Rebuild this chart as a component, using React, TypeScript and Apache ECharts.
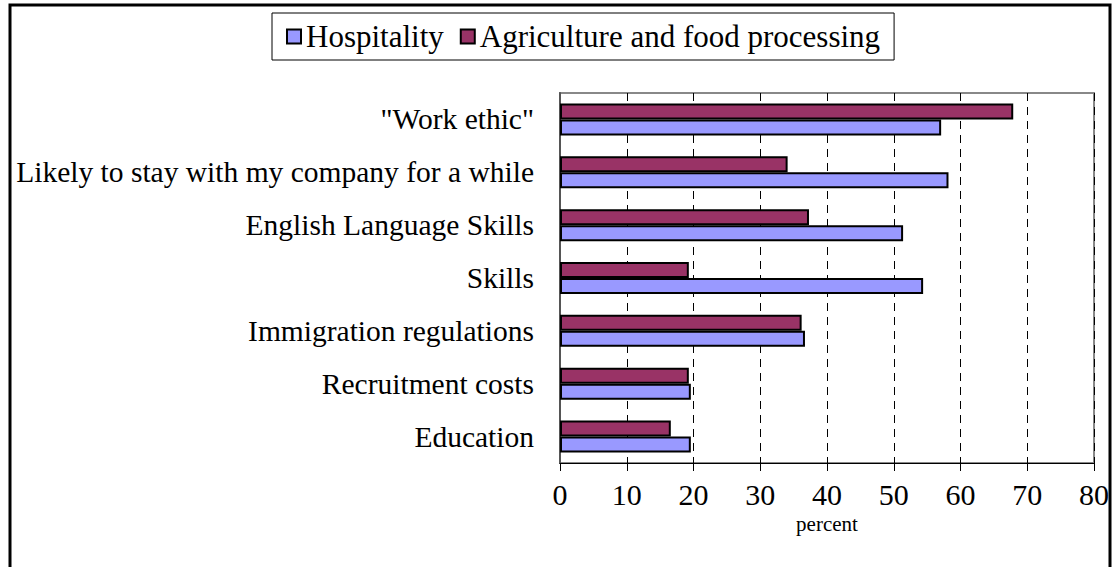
import React, { useEffect, useRef } from "react";
import * as echarts from "echarts";

const categories = [
  '"Work ethic"',
  "Likely to stay with my company for a while",
  "English Language Skills",
  "Skills",
  "Immigration regulations",
  "Recruitment costs",
  "Education",
];
const hospitality = [57.1, 58.2, 51.4, 54.4, 36.7, 19.6, 19.6];
const agriculture = [67.9, 34.1, 37.3, 19.3, 36.2, 19.3, 16.6];
const seriesNames = ["Hospitality", "Agriculture and food processing"];
const xTicks = { min: 0, max: 80, interval: 10 };
const xName = "percent";

const FONT = "'Liberation Serif', 'Times New Roman', Times, serif";

export default function App() {
  const ref = useRef<HTMLDivElement>(null);
  useEffect(() => {
    if (!ref.current) return;
    const chart = echarts.init(ref.current, undefined, { renderer: "svg" });
    chart.setOption({
      animation: false,
      backgroundColor: "#ffffff",
      textStyle: { fontFamily: FONT, color: "#000" },
      graphic: [
        {
          type: "rect",
          shape: { x: 10, y: 5, width: 1100, height: 570 },
          style: { fill: "none", stroke: "#000", lineWidth: 3 },
          silent: true,
          z: 100,
        },
      ],
      legend: {
        data: seriesNames.map((n) => ({
          name: n,
          textStyle: { fontFamily: FONT, fontSize: 31, color: "#000" },
        })),
        left: 272,
        top: 13,
        itemWidth: 14,
        itemHeight: 14,
        itemGap: 16,
        padding: [8, 14, 8, 14],
        borderColor: "#000",
        borderWidth: 1,
        textStyle: { fontFamily: FONT, fontSize: 31, color: "#000" },
        icon: "rect",
      },
      grid: {
        left: 560,
        right: 18,
        top: 93,
        bottom: 104,
        show: true,
        borderColor: "#888",
        borderWidth: 2,
        containLabel: false,
      },
      xAxis: {
        type: "value",
        min: xTicks.min,
        max: xTicks.max,
        interval: xTicks.interval,
        name: xName,
        nameLocation: "middle",
        nameGap: 48,
        nameTextStyle: { fontFamily: FONT, fontSize: 21, color: "#000" },
        axisLine: { show: true, lineStyle: { color: "#000", width: 1 } },
        axisTick: { show: true, length: 8, lineStyle: { color: "#000" } },
        axisLabel: { fontFamily: FONT, fontSize: 30, color: "#000", margin: 16 },
        splitLine: { show: true, lineStyle: { color: "#000", type: [8, 6], width: 1 } },
      },
      yAxis: {
        type: "category",
        data: categories,
        inverse: true,
        axisLine: { show: true, lineStyle: { color: "#555", width: 2 } },
        axisTick: { show: false },
        axisLabel: { fontFamily: FONT, fontSize: 29.5, color: "#000", margin: 26 },
      },
      series: [
        {
          name: seriesNames[1],
          type: "bar",
          data: agriculture,
          barWidth: 16,
          barGap: "0%",
          itemStyle: { color: "#993366", borderColor: "#000", borderWidth: 2 },
        },
        {
          name: seriesNames[0],
          type: "bar",
          data: hospitality,
          barWidth: 16,
          barGap: "0%",
          itemStyle: { color: "#9999FF", borderColor: "#000", borderWidth: 2 },
        },
      ],
    });
    return () => chart.dispose();
  }, []);
  return (
    <div
      ref={ref}
      style={{ position: "fixed", left: 0, top: 0, width: 1112, height: 567 }}
    />
  );
}
